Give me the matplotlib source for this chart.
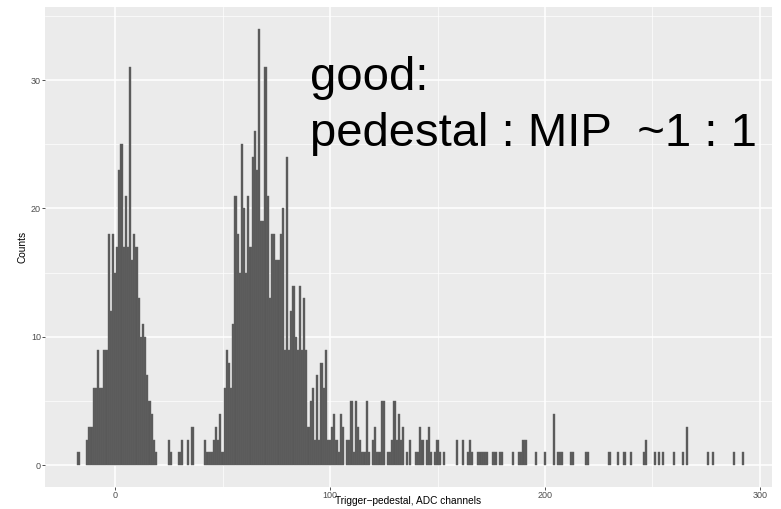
import matplotlib.pyplot as plt
from matplotlib.ticker import MultipleLocator

plt.rcParams['font.family'] = ['Liberation Sans', 'DejaVu Sans']

# pedestal peak, one count per ADC channel starting at ped_start
ped_start = -17
ped_counts = [1, 0, 0, 0, 2, 3, 3, 6, 6, 9, 6, 6, 9, 9, 18, 12, 18, 15, 17, 23,
              25, 17, 21, 17, 31, 16, 18, 17, 13, 10, 11, 10, 7, 5, 4, 2, 1]

# isolated channels between the two peaks
gap_channels = [25, 26, 30, 31, 34, 36]
gap_counts = [2, 1, 1, 2, 2, 3]

# MIP peak, one count per ADC channel starting at mip_start
mip_start = 42
mip_counts = [2, 1, 1, 1, 2, 3, 2, 4, 1, 6,
              9, 8, 6, 11, 21, 18, 15, 25, 20, 15,
              21, 17, 24, 26, 23, 34, 19, 19, 31, 21,
              13, 18, 18, 16, 16, 18, 20, 9, 24, 9,
              12, 14, 10, 9, 14, 9, 13, 9, 3, 5,
              6, 2, 7, 2, 8, 6, 9, 2, 2, 3,
              4, 2, 1, 4, 3, 0, 2, 2, 5, 1,
              5, 3, 2, 1, 1, 5, 1, 0, 2, 3,
              1, 1, 5, 5, 0, 1, 1, 2, 5, 2,
              4, 2, 3, 0, 1, 2, 0, 0, 1, 1,
              3, 2, 0, 2, 3, 1, 0, 1, 2, 1]

# sparse tail
tail_channels = [153, 159, 162, 164, 165, 166, 169, 170, 171, 172, 173, 176, 177,
                 179, 180, 185, 188, 189, 190, 191, 196, 200, 204, 206, 207, 208,
                 212, 213, 219, 220, 230, 234, 237, 240, 246, 247, 251, 253, 255,
                 260, 264, 266, 276, 278, 288, 292]
tail_counts = [1, 2, 2, 1, 2, 1, 1, 1, 1, 1, 1, 1, 1,
               1, 1, 1, 1, 1, 2, 2, 1, 1, 4, 1, 1, 1,
               1, 1, 1, 1, 1, 1, 1, 1, 1, 2, 1, 1, 1,
               1, 1, 3, 1, 1, 1, 1]

x_ticks = [0, 100, 200, 300]
y_ticks = [0, 10, 20, 30]

channels = (list(range(ped_start, ped_start + len(ped_counts))) + gap_channels
            + list(range(mip_start, mip_start + len(mip_counts))) + tail_channels)
counts = ped_counts + gap_counts + mip_counts + tail_counts
pairs = [(c, n) for c, n in zip(channels, counts) if n > 0]
channels = [p[0] for p in pairs]
counts = [p[1] for p in pairs]

W, H = 781, 509
fig = plt.figure(figsize=(W / 100, H / 100), dpi=100)
ax = fig.add_axes([45 / W, (H - 487) / H, (772 - 45) / W, (487 - 7) / H])
ax.set_facecolor('#EBEBEB')
for s in ax.spines.values():
    s.set_visible(False)

ax.bar(channels, counts, width=1, color='#595959', edgecolor='#666666', linewidth=0.3, zorder=3)

ax.set_xlim(-32.6, 305.6)
ax.set_ylim(-1.7, 35.7)
ax.set_xticks(x_ticks)
ax.set_yticks(y_ticks)
ax.xaxis.set_minor_locator(MultipleLocator(50))
ax.yaxis.set_minor_locator(MultipleLocator(5))
ax.grid(which='major', color='white', linewidth=1.1, zorder=0)
ax.grid(which='minor', color='white', linewidth=0.5, zorder=0)
ax.set_axisbelow(True)
ax.tick_params(which='major', length=2, width=0.6, color='#333333',
               labelsize=6.5, labelcolor='#4D4D4D', pad=1)
ax.tick_params(which='minor', length=0)

# x label placed by baseline so its descenders stay inside the figure
fig.text((45 + 772) / 2 / W, 1 - 503.5 / H, 'Trigger\u2212pedestal, ADC channels',
         fontsize=7.3, ha='center', va='baseline')
ax.set_ylabel('Counts', fontsize=7.3, labelpad=2.5)

ax.text(90.7, 29.2, 'good:', fontsize=34, color='black', va='baseline', ha='left')
ax.text(90.7, 24.9, 'pedestal : MIP  ~1 : 1', fontsize=34, color='black',
        va='baseline', ha='left')

fig.savefig('out.png', dpi=100)
